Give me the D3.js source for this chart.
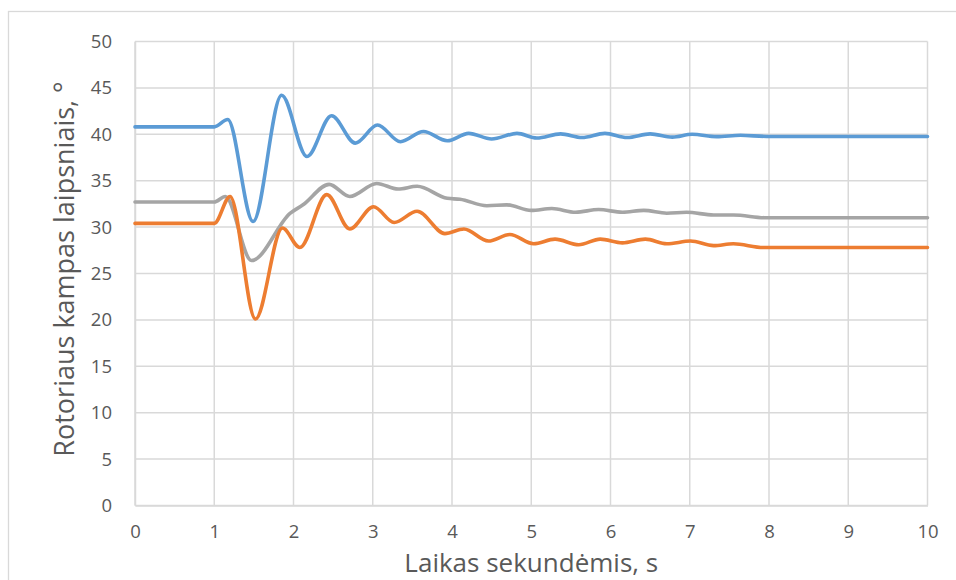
<!DOCTYPE html>
<html><head><meta charset="utf-8">
<script src="https://cdn.jsdelivr.net/npm/d3@7"></script>
<style>body{margin:0;background:#fff}svg{display:block}</style>
</head><body><svg id="c" width="956" height="580"></svg>
<script>
const xTicks = [0,1,2,3,4,5,6,7,8,9,10];
const yTicks = [0,5,10,15,20,25,30,35,40,45,50];
const seriesNames = ["Blue", "Orange", "Gray"];
const seriesColors = ["#5b9bd5", "#ed7d31", "#a5a5a5"];
const blueT = [0,1.0,1.17,1.49,1.85,2.17,2.48,2.78,3.06,3.35,3.64,3.94,4.21,4.50,4.82,5.07,5.37,5.64,5.93,6.21,6.50,6.78,7.03,7.34,7.64,7.97,10];
const blueV = [40.8,40.8,41.6,30.6,44.2,37.6,42.0,39.05,41.0,39.2,40.3,39.3,40.1,39.5,40.1,39.6,40.05,39.65,40.1,39.65,40.05,39.7,40.0,39.75,39.9,39.77,39.77];
const orangeT = [0,1.0,1.2,1.52,1.86,2.08,2.42,2.71,3.01,3.27,3.56,3.91,4.15,4.46,4.73,5.03,5.30,5.60,5.87,6.15,6.44,6.71,7.01,7.30,7.55,7.93,10];
const orangeV = [30.4,30.4,33.3,20.1,29.9,27.8,33.5,29.8,32.2,30.5,31.7,29.3,29.8,28.5,29.2,28.2,28.7,28.1,28.7,28.3,28.7,28.2,28.5,28.0,28.2,27.8,27.8];
const grayT = [0,1.0,1.14,1.47,1.96,2.12,2.45,2.71,3.05,3.32,3.56,3.94,4.10,4.44,4.69,5.0,5.26,5.56,5.85,6.15,6.42,6.71,6.96,7.30,7.55,7.97,10];
const grayV = [32.7,32.7,33.3,26.4,31.5,32.4,34.6,33.3,34.7,34.1,34.4,33.1,33.0,32.3,32.4,31.8,32.0,31.6,31.9,31.6,31.8,31.5,31.6,31.3,31.3,31.0,31.0];

const svg = d3.select("#c");
const m = {l:135, r:927.5, t:41.5, b:505.5};
const x = d3.scaleLinear().domain([0,10]).range([m.l, m.r]);
const y = d3.scaleLinear().domain([0,50]).range([m.b, m.t]);
const font = "'Open Sans', sans-serif";

// outer border
svg.append("rect").attr("x",8.5).attr("y",11.5).attr("width",1000).attr("height",1000)
  .attr("fill","none").attr("stroke","#d9d9d9").attr("stroke-width",1.3);

// grid
const g = svg.append("g");
g.selectAll(".gx").data(xTicks).join("line").attr("x1",d=>x(d)).attr("x2",d=>x(d))
  .attr("y1",m.t).attr("y2",m.b).attr("stroke","#d9d9d9").attr("stroke-width",1.5);
g.selectAll(".gy").data(yTicks).join("line").attr("y1",d=>y(d)).attr("y2",d=>y(d))
  .attr("x1",m.l).attr("x2",m.r).attr("stroke","#d9d9d9").attr("stroke-width",1.5);

// axes via d3 axis
const xAxis = svg.append("g").attr("transform",`translate(0,${m.b})`)
  .call(d3.axisBottom(x).tickValues(xTicks).tickSize(0).tickPadding(19).tickFormat(d3.format("d")));
const yAxis = svg.append("g").attr("transform",`translate(${m.l},0)`)
  .call(d3.axisLeft(y).tickValues(yTicks).tickSize(0).tickPadding(23).tickFormat(d3.format("d")));
[xAxis,yAxis].forEach(a=>{
  a.select(".domain").attr("stroke","#d9d9d9").attr("stroke-width",1.5);
  a.selectAll("text").attr("font-family",font).attr("font-size",18.5).attr("fill","#595959");
});

// lines
const series = [[blueT,blueV],[orangeT,orangeV],[grayT,grayV]];
const line = d3.line().x(d=>x(d[0])).y(d=>y(d[1])).curve(d3.curveMonotoneX);
const order = [2,1,0];
order.forEach(i=>{
  const [T,V] = series[i];
  svg.append("path").datum(T.map((t,k)=>[t,V[k]])).attr("d",line)
    .attr("fill","none").attr("stroke",seriesColors[i]).attr("stroke-width",3.6)
    .attr("stroke-linejoin","round").attr("stroke-linecap","round");
});

// titles
svg.append("text").attr("x",(m.l+m.r)/2).attr("y",571.5).attr("text-anchor","middle")
  .attr("font-family",font).attr("font-size",26).attr("fill","#595959").text("Laikas sekundėmis, s");
svg.append("text").attr("transform",`translate(74,${269}) rotate(-90)`).attr("text-anchor","middle")
  .attr("font-family",font).attr("font-size",27).attr("fill","#595959").text("Rotoriaus kampas laipsniais, °");
</script></body></html>
